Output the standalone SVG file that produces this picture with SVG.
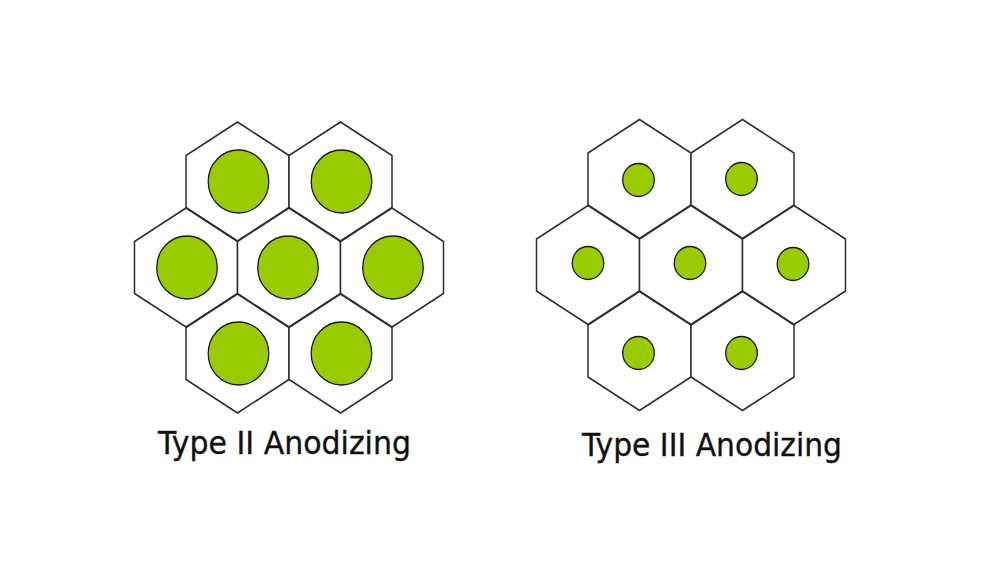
<svg xmlns="http://www.w3.org/2000/svg" xmlns:xlink="http://www.w3.org/1999/xlink" width="1000" height="563" viewBox="0 0 1000 563">
<style>
.hex{fill:#ffffff;stroke:#2e2e2e;stroke-width:1.5;stroke-linejoin:miter}
.big{fill:#99cc00;stroke:#1a1a1a;stroke-width:1.3}
.small{fill:#99cc00;stroke:#1a1a1a;stroke-width:1.3}
.label{font-family:"DejaVu Sans","Liberation Sans",sans-serif;font-size:32px;fill:#111111;stroke:#111111;stroke-width:0.35}
</style>
<defs>
<polygon id="hexshape" points="0,-59.5 51.5,-26 51.5,26 0,59.5 -51.5,26 -51.5,-26"/>
</defs>
<rect width="1000" height="563" fill="#ffffff"/>
<g id="type2">
<g id="t2-c1" transform="translate(237.5,181.5)"><use xlink:href="#hexshape" class="hex"/><ellipse class="big" cx="1" cy="0" rx="30.3" ry="31.5"/></g>
<g id="t2-c2" transform="translate(340.5,181.5)"><use xlink:href="#hexshape" class="hex"/><ellipse class="big" cx="1" cy="0" rx="30.3" ry="31.5"/></g>
<g id="t2-c3" transform="translate(186,267.5)"><use xlink:href="#hexshape" class="hex"/><ellipse class="big" cx="1" cy="0" rx="30.3" ry="31.5"/></g>
<g id="t2-c4" transform="translate(289,267.5)"><use xlink:href="#hexshape" class="hex"/><ellipse class="big" cx="-1" cy="0" rx="30.3" ry="31.5"/></g>
<g id="t2-c5" transform="translate(392,267.5)"><use xlink:href="#hexshape" class="hex"/><ellipse class="big" cx="1" cy="0" rx="30.3" ry="31.5"/></g>
<g id="t2-c6" transform="translate(237.5,353.5)"><use xlink:href="#hexshape" class="hex"/><ellipse class="big" cx="1" cy="0" rx="30.3" ry="31.5"/></g>
<g id="t2-c7" transform="translate(340.5,353.5)"><use xlink:href="#hexshape" class="hex"/><ellipse class="big" cx="1" cy="0" rx="30.3" ry="31.5"/></g>
</g>
<g id="type3">
<g id="t3-c1" transform="translate(639.5,179)"><use xlink:href="#hexshape" class="hex"/><ellipse class="small" cx="-1" cy="1" rx="15.8" ry="16.5"/></g>
<g id="t3-c2" transform="translate(742.5,179)"><use xlink:href="#hexshape" class="hex"/><ellipse class="small" cx="-1" cy="0" rx="15.8" ry="16.5"/></g>
<g id="t3-c3" transform="translate(588,265)"><use xlink:href="#hexshape" class="hex"/><ellipse class="small" cx="0" cy="-2" rx="15.8" ry="16.5"/></g>
<g id="t3-c4" transform="translate(691,265)"><use xlink:href="#hexshape" class="hex"/><ellipse class="small" cx="-1" cy="-2" rx="15.8" ry="16.5"/></g>
<g id="t3-c5" transform="translate(794,265)"><use xlink:href="#hexshape" class="hex"/><ellipse class="small" cx="-1" cy="-1" rx="15.8" ry="16.5"/></g>
<g id="t3-c6" transform="translate(639.5,351)"><use xlink:href="#hexshape" class="hex"/><ellipse class="small" cx="-1" cy="2" rx="15.8" ry="16.5"/></g>
<g id="t3-c7" transform="translate(742.5,351)"><use xlink:href="#hexshape" class="hex"/><ellipse class="small" cx="-1" cy="2" rx="15.8" ry="16.5"/></g>
</g>
<g id="connectors"/>
<text id="label-type2" class="label" x="158" y="453.5" textLength="253" lengthAdjust="spacingAndGlyphs">Type II Anodizing</text>
<text id="label-type3" class="label" x="582" y="456" textLength="260" lengthAdjust="spacingAndGlyphs">Type III Anodizing</text>
</svg>
